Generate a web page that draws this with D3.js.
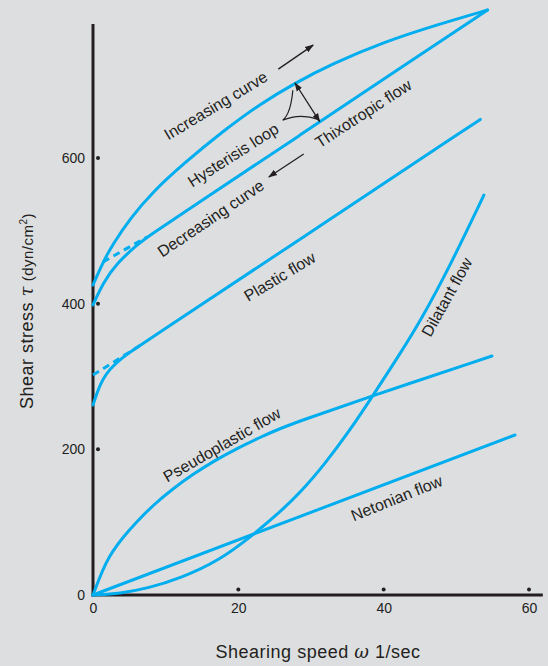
<!DOCTYPE html>
<html>
<head>
<meta charset="utf-8">
<script src="https://cdn.jsdelivr.net/npm/d3@7"></script>
<style>
  html, body { margin: 0; padding: 0; background: #dddee0; }
  svg { display: block; }
  text { font-family: "Liberation Sans", Arial, Helvetica, sans-serif; fill: #231f20; }
</style>
</head>
<body>
<svg id="chart" width="548" height="666"></svg>
<script>
// Axis ticks
const xTicks = [0, 20, 40, 60];
const yTicks = [0, 200, 400, 600];

// Flow curves: [shearing speed (1/sec), shear stress (dyn/cm^2)]
const increasingCurve = [[0, 425.6], [1.38, 457.3], [2.75, 482], [5.09, 516.8], [8.26, 553.9],
  [12.4, 591.8], [18.03, 638], [22.98, 674.1], [27.8, 703], [32.9, 729.1], [40.0, 759.3],
  [47.7, 784], [54.3, 803.2]];
const decreasingCurve = [[0, 398.2], [1.38, 428.4], [3.3, 455.9], [6.05, 480.6], [7.43, 491.6],
  [14.72, 540], [28.5, 631.4], [42.2, 722.9], [54.3, 803.2]];
const hysteresisDashed = [[1.38, 457.3], [7.43, 491.6]];
const plasticFlow = [[0, 260.9], [0.55, 277.3], [0.96, 288.3], [1.79, 303.4], [2.75, 314.4],
  [3.99, 325.4], [5.09, 333.6], [6.47, 342.6], [28.5, 488.6], [53.3, 653]];
const plasticDashed = [[0, 302], [6.47, 342.6]];
const pseudoplasticFlow = [[0, 0], [0.96, 25.1], [1.75, 43.5], [2.65, 59.5], [4.17, 80], [6.01, 100.6],
  [8.3, 123.6], [11.05, 146.5], [13.8, 166], [16.55, 183.5], [19.77, 201], [22.98, 216.5],
  [25.73, 228.5], [28.48, 239], [36.74, 267.7], [54.9, 328.2]];
const dilatantFlow = [[0, 0], [3.72, 2], [7.43, 9], [11.97, 22.7], [17.48, 48], [22.02, 82.4],
  [25.73, 114], [28.48, 140], [31.92, 180], [35.37, 226.5], [38.12, 267.7], [42.25, 331],
  [45.27, 380], [49.13, 451.7], [53.8, 549.2]];
const newtonianFlow = [[0, 0], [58.07, 219.7]];

const svg = d3.select("#chart");
const W = 548, H = 666;
const blue = "#00aeef";
const ink = "#231f20";

const x = d3.scaleLinear().domain([0, 60]).range([93, 529]);
const y = d3.scaleLinear().domain([0, 600]).range([595, 158]);

svg.append("rect").attr("width", W).attr("height", H).attr("fill", "#dddee0");

// arrowhead marker
const defs = svg.append("defs");
defs.append("marker")
  .attr("id", "head")
  .attr("viewBox", "0 0 10 10")
  .attr("refX", 9).attr("refY", 5)
  .attr("markerWidth", 9).attr("markerHeight", 9)
  .attr("markerUnits", "userSpaceOnUse")
  .attr("orient", "auto-start-reverse")
  .append("path").attr("d", "M0,1.5 L10,5 L0,8.5 Z").attr("fill", ink);

// axes lines
svg.append("line")
  .attr("x1", x(0)).attr("x2", x(0))
  .attr("y1", y(784)).attr("y2", y(0) + 1.5)
  .attr("stroke", ink).attr("stroke-width", 3);
svg.append("line")
  .attr("x1", x(0) - 1.5).attr("x2", x(61.9))
  .attr("y1", y(0)).attr("y2", y(0))
  .attr("stroke", ink).attr("stroke-width", 3);

// tick labels
const yAxis = d3.axisLeft(y).tickValues(yTicks.filter(d => d > 0)).tickSize(0).tickPadding(8);
const gy = svg.append("g").attr("transform", `translate(${x(0)},0)`).call(yAxis);
gy.select(".domain").remove();
gy.selectAll("text").style("font-size", "14px").style("font-family", null).attr("fill", ink);

const xAxis = d3.axisBottom(x).tickValues(xTicks).tickSize(0).tickPadding(8);
const gx = svg.append("g").attr("transform", `translate(0,${y(0)})`).call(xAxis);
gx.select(".domain").remove();
gx.selectAll("text").style("font-size", "14px").style("font-family", null).attr("fill", ink);

svg.append("text")
  .attr("x", x(0) - 8).attr("y", y(0) + 5)
  .attr("text-anchor", "end")
  .style("font-size", "14px")
  .text(yTicks[0]);

// tick dots
svg.selectAll(".ydot").data(yTicks.filter(d => d > 0)).join("circle")
  .attr("cx", x(0) + 5).attr("cy", d => y(d)).attr("r", 2).attr("fill", ink);
svg.selectAll(".xdot").data(xTicks.filter(d => d > 0)).join("circle")
  .attr("cx", d => x(d)).attr("cy", y(0) - 5.5).attr("r", 2).attr("fill", ink);

// curves
const line = d3.line().x(d => x(d[0])).y(d => y(d[1])).curve(d3.curveBasis);
const straight = d3.line().x(d => x(d[0])).y(d => y(d[1]));

const solid = [increasingCurve, decreasingCurve, plasticFlow, pseudoplasticFlow, dilatantFlow];
svg.selectAll(".curve").data(solid).join("path")
  .attr("d", line)
  .attr("fill", "none").attr("stroke", blue).attr("stroke-width", 3)
  .attr("stroke-linecap", "round").attr("stroke-linejoin", "round");
svg.append("path").attr("d", straight(newtonianFlow))
  .attr("fill", "none").attr("stroke", blue).attr("stroke-width", 3).attr("stroke-linecap", "round");
svg.selectAll(".dash").data([hysteresisDashed, plasticDashed]).join("path")
  .attr("d", straight)
  .attr("fill", "none").attr("stroke", blue).attr("stroke-width", 3)
  .attr("stroke-dasharray", "7,5");

// curve labels
const labels = [
  { t: "Increasing curve", at: [16.9, 672], a: -31 },
  { t: "Hysterisis loop", at: [19.3, 604], a: -32.5 },
  { t: "Decreasing curve", at: [16.2, 517], a: -34 },
  { t: "Thixotropic flow", at: [37.2, 661], a: -33 },
  { t: "Plastic flow", at: [25.7, 437], a: -31 },
  { t: "Pseudoplastic flow", at: [17.75, 206], a: -30 },
  { t: "Dilatant flow", at: [48.7, 409], a: -61 },
  { t: "Netonian flow", at: [41.8, 133], a: -22 }
];
svg.selectAll(".lbl").data(labels).join("text")
  .attr("transform", d => `translate(${x(d.at[0])},${y(d.at[1])}) rotate(${d.a})`)
  .attr("text-anchor", "middle")
  .attr("dominant-baseline", "central")
  .style("font-size", "16px")
  .text(d => d.t);

// direction arrows
const arrows = [
  { from: [25.5, 722], to: [30.3, 755], both: false },
  { from: [29.0, 605.5], to: [24.2, 574], both: false },
  { from: [27.8, 703], to: [31.2, 650], both: true }
];
svg.selectAll(".arr").data(arrows).join("line")
  .attr("x1", d => x(d.from[0])).attr("y1", d => y(d.from[1]))
  .attr("x2", d => x(d.to[0])).attr("y2", d => y(d.to[1]))
  .attr("stroke", ink).attr("stroke-width", 1.3)
  .attr("marker-end", "url(#head)")
  .attr("marker-start", d => d.both ? "url(#head)" : null);

// loop-area symbol
const p = d3.path();
p.moveTo(x(27.5), y(693));
p.quadraticCurveTo(x(27.2), y(660), x(26.1), y(652));
p.quadraticCurveTo(x(28.5), y(662), x(31.0), y(653));
svg.append("path").attr("d", p.toString())
  .attr("fill", "none").attr("stroke", ink).attr("stroke-width", 1.2);

// axis titles
const xt = svg.append("text")
  .attr("x", 318).attr("y", 658)
  .attr("text-anchor", "middle")
  .style("font-size", "18px")
  .style("letter-spacing", "0.5px");
xt.append("tspan").text("Shearing speed  ");
xt.append("tspan").style("font-style", "italic").style("font-family", "'DejaVu Serif', serif").text("ω");
xt.append("tspan").text("  1/sec");

const yt = svg.append("text")
  .attr("transform", "translate(33,311) rotate(-90)")
  .attr("text-anchor", "middle")
  .style("font-size", "18px")
  .style("letter-spacing", "0.5px");
yt.append("tspan").text("Shear stress  ");
yt.append("tspan").style("font-style", "italic").style("font-family", "'DejaVu Serif', serif").text("τ");
yt.append("tspan").text("  (dyn/cm").style("font-size", "15px");
yt.append("tspan").text("2").style("font-size", "10px").attr("dy", "-6");
yt.append("tspan").text(")").style("font-size", "15px").attr("dy", "6");
</script>
</body>
</html>
